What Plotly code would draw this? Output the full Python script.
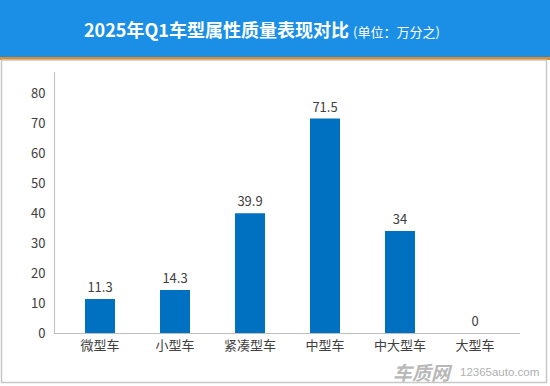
import plotly.graph_objects as go

categories = ["微型车", "小型车", "紧凑型车", "中型车", "中大型车", "大型车"]
values = [11.3, 14.3, 39.9, 71.5, 34, 0]
value_labels = ["11.3", "14.3", "39.9", "71.5", "34", "0"]
y_ticks = [0, 10, 20, 30, 40, 50, 60, 70, 80]

W, H = 550, 386
L, R, T, B = 55, 30, 72, 53
pw, ph = W - L - R, H - T - B

def px(x):
    return (x - L) / pw

def py(y):
    return (H - B - y) / ph

cjk = "Noto Sans CJK SC, Microsoft YaHei, sans-serif"

fig = go.Figure(go.Bar(
    x=categories, y=values, text=value_labels,
    textposition="outside", cliponaxis=False,
    textfont=dict(size=13, color="#404040", family=cjk),
    marker=dict(color="#0070C0", line=dict(width=0)),
    width=0.4,
))

shapes = [
    dict(type="rect", xref="paper", yref="paper", x0=px(0), x1=px(W), y0=py(0), y1=py(57),
         fillcolor="#1B8FE6", line=dict(width=0), layer="below"),
    dict(type="rect", xref="paper", yref="paper", x0=px(0), x1=px(W), y0=py(57), y1=py(60),
         fillcolor="#E38B22", line=dict(width=0), layer="below"),
    dict(type="rect", xref="paper", yref="paper", x0=px(1.5), x1=px(W - 3.5), y0=py(60), y1=py(H - 3.5),
         fillcolor="rgba(0,0,0,0)", line=dict(width=1.5, color="#C8C8C8"), layer="below"),
]

annotations = [
    dict(xref="paper", yref="paper", x=px(262), y=py(29), xanchor="center", yanchor="middle",
         showarrow=False,
         text="<b>2025年Q1车型属性质量表现对比</b> <span style='font-size:13px'>(单位：万分之)</span>",
         font=dict(size=18, color="white", family=cjk)),
    dict(xref="paper", yref="paper", x=px(455), y=py(371), xanchor="right", yanchor="middle",
         showarrow=False, text="<b><i>车质网</i></b>",
         font=dict(size=19, color="#B8B8B8", family=cjk)),
    dict(xref="paper", yref="paper", x=px(458), y=py(372), xanchor="left", yanchor="middle",
         showarrow=False, text="12365auto.com",
         font=dict(size=11.5, color="#B0B0B0", family="Liberation Sans, Arial, sans-serif")),
]

fig.update_layout(
    width=W, height=H,
    margin=dict(l=L, r=R, t=T, b=B),
    paper_bgcolor="white", plot_bgcolor="white",
    showlegend=False,
    shapes=shapes, annotations=annotations,
    xaxis=dict(range=[-0.6, 5.6], showline=True, linecolor="#BFBFBF", linewidth=1,
               showgrid=False, ticks="", tickfont=dict(size=13, color="#404040", family=cjk),
               fixedrange=True),
    yaxis=dict(range=[0, 87], tickvals=y_ticks, showline=True, linecolor="#BFBFBF", linewidth=1,
               showgrid=False, zeroline=False, ticks="", ticklabelstandoff=6,
               tickfont=dict(size=13, color="#404040", family=cjk), fixedrange=True),
)

fig.write_html("out.html", config={"displayModeBar": False},
               post_script="document.body.style.margin='0';document.body.style.overflow='hidden';")
